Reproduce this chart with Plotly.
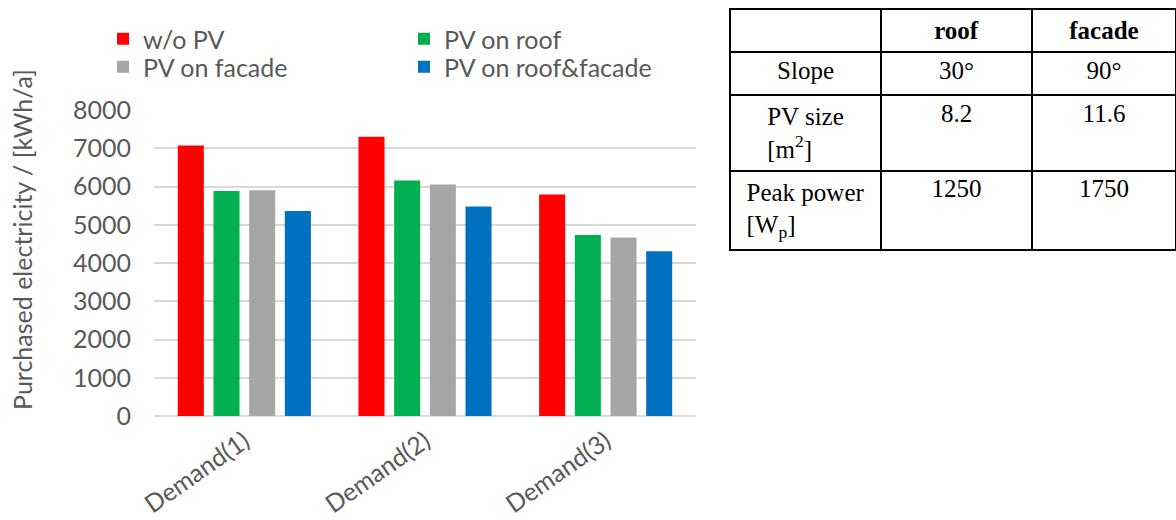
import plotly.graph_objects as go

W, H = 1176, 520

# Chart data
categories = ["Demand(1)", "Demand(2)", "Demand(3)"]
series_names = ["w/o PV", "PV on roof", "PV on facade", "PV on roof&facade"]
wo_pv = [7070, 7300, 5790]
pv_roof = [5880, 6160, 4735]
pv_facade = [5900, 6050, 4665]
pv_roof_facade = [5360, 5480, 4310]
series_values = [wo_pv, pv_roof, pv_facade, pv_roof_facade]
series_colors = ["#ff0000", "#00b050", "#a6a6a6", "#0070c0"]
y_ticks = [0, 1000, 2000, 3000, 4000, 5000, 6000, 7000, 8000]

# PV installation table
table_header = ["", "<b>roof</b>", "<b>facade</b>"]
table_rows = ["Slope", "PV size<br>[m<sup>2</sup>]", "Peak power<br>[W<sub>p</sub>]"]
table_roof = ["30°", "8.2", "1250"]
table_facade = ["90°", "11.6", "1750"]

FONT = "Lato"
GREY = "#595959"
FS = 25

# one legend box per series, laid out as a 2x2 grid (column x, row top in px)
legend_ids = ["legend", "legend2", "legend3", "legend4"]
legend_cells = [(103, 16), (404, 16), (103, 44), (404, 44)]

fig = go.Figure()
for name, vals, col, lg in zip(series_names, series_values, series_colors, legend_ids):
    fig.add_trace(go.Bar(
        x=categories, y=vals, name=name, marker=dict(color=col, line=dict(width=0)),
        legend=lg,
    ))

fig.add_trace(go.Table(
    domain=dict(x=[730 / W, 1.0], y=[240 / H, 1 - 9 / H]),
    columnwidth=[151, 151, 144],
    header=dict(
        values=table_header, height=42, align="center",
        fill_color="white", line=dict(color="black", width=2),
        font=dict(family="Liberation Serif", size=25, color="black"),
    ),
    cells=dict(
        values=[table_rows, table_roof, table_facade], height=43, align="center",
        fill_color="white", line=dict(color="black", width=2),
        font=dict(family="Liberation Serif", size=25, color="black"),
    ),
))

legend_layout = {}
for lg, (lx, ly) in zip(legend_ids, legend_cells):
    legend_layout[lg] = dict(
        x=lx / W, y=1 - ly / H, yanchor="top", xanchor="left", orientation="v",
        bgcolor="rgba(0,0,0,0)", font=dict(size=FS, color=GREY), itemwidth=30,
    )

fig.update_layout(
    width=W, height=H,
    margin=dict(l=0, r=0, t=0, b=0),
    paper_bgcolor="white", plot_bgcolor="white",
    font=dict(family=FONT, size=FS, color=GREY),
    barmode="group", bargap=0.21, bargroupgap=0.27,
    showlegend=True,
    **legend_layout,
    xaxis=dict(
        domain=[154 / W, 696 / W], tickangle=-35, showgrid=False,
        showline=False, ticks="", ticklabelstandoff=5,
        tickfont=dict(size=FS, color=GREY), automargin=False,
    ),
    yaxis=dict(
        domain=[104 / H, 1 - 110 / H], range=[0, 8000], tickvals=y_ticks,
        showgrid=True, gridcolor="#d9d9d9", gridwidth=1.5,
        zeroline=True, zerolinecolor="#d9d9d9", zerolinewidth=2,
        ticks="", ticklabelstandoff=22, tickfont=dict(size=FS, color=GREY),
        automargin=False,
    ),
    annotations=[dict(
        text="Purchased electricity / [kWh/a]", textangle=-90,
        x=22 / W, y=1 - 240 / H, xref="paper", yref="paper",
        xanchor="center", yanchor="middle", showarrow=False,
        font=dict(size=FS, color=GREY),
    )],
)

fig.write_html("out.html")
